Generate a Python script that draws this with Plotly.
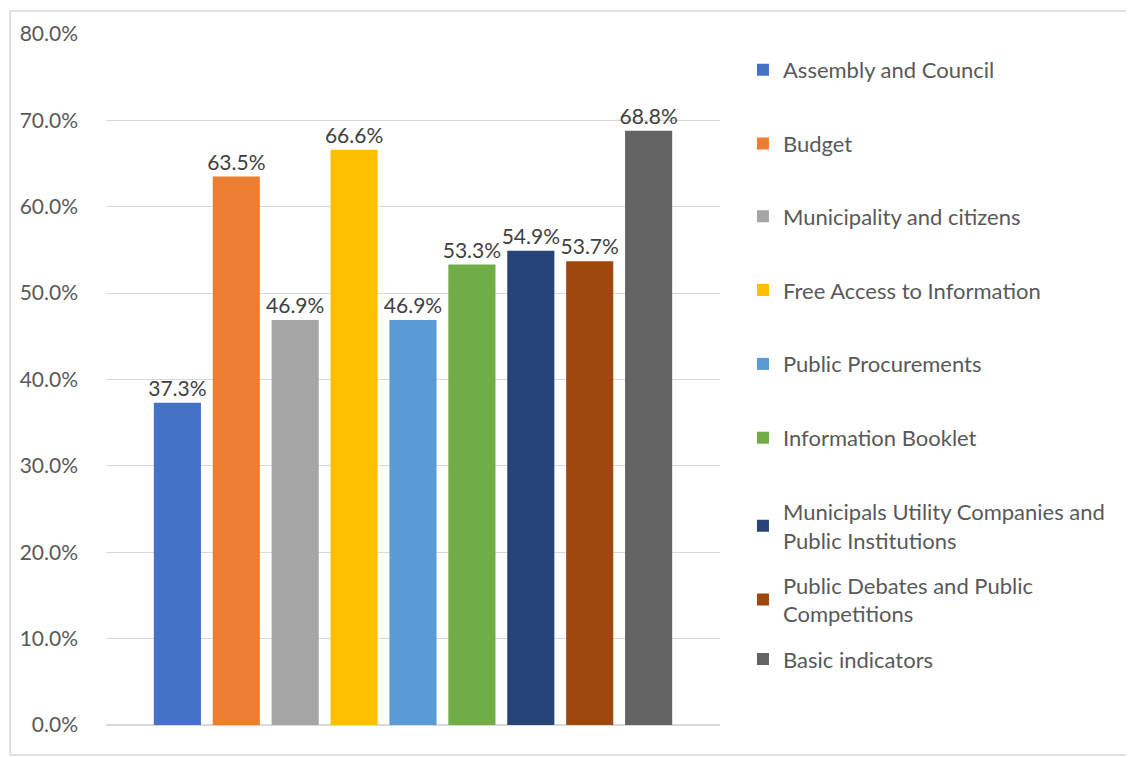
import plotly.graph_objects as go

categories = ["Assembly and Council", "Budget", "Municipality and citizens",
              "Free Access to Information", "Public Procurements", "Information Booklet",
              "Municipals Utility Companies and<br>Public Institutions",
              "Public Debates and Public<br>Competitions", "Basic indicators"]
values = [0.373, 0.635, 0.469, 0.666, 0.469, 0.533, 0.549, 0.537, 0.688]
colors = ["#4472C4", "#ED7D31", "#A5A5A5", "#FFC000", "#5B9BD5", "#70AD47",
          "#264478", "#9E480E", "#636363"]
tick_vals = [0, 0.1, 0.2, 0.3, 0.4, 0.5, 0.6, 0.7, 0.8]

FONT = "Lato"
OFF = 8  # browser body margin
W, H = 1134 - OFF, 757 - OFF
L, R, T, B = 105 - OFF, 720 - OFF, 32 - OFF, 725 - OFF
PW, PH = R - L, B - T

legend_py = [70, 144, 217, 291, 365, 439, 513, 587, 661]

fig = go.Figure()
layout_legends = {}
for i, (name, v, c) in enumerate(zip(categories, values, colors)):
    lname = "legend" if i == 0 else f"legend{i+1}"
    fig.add_trace(go.Bar(
        x=[0], y=[v], name=name, marker_color=c, marker_line_width=0,
        text=[f"{v*100:.1f}%"], textposition="outside", cliponaxis=False,
        constraintext="none",
        textfont=dict(family=FONT, size=21, color="#404040"),
        legend=lname, showlegend=True,
    ))
    layout_legends[lname] = dict(
        x=(743 - OFF - L) / PW, y=(B - (legend_py[i] - OFF) + 23) / PH,
        xanchor="left", yanchor="top",
        font=dict(family=FONT, size=22, color="#595959"),
        bgcolor="rgba(0,0,0,0)", borderwidth=0, itemclick=False,
    )

fig.update_layout(
    width=W, height=H,
    margin=dict(l=L, r=W - R, t=T, b=H - B),
    paper_bgcolor="white", plot_bgcolor="white",
    barmode="group", bargap=1 - 531 / 615, bargroupgap=0.2,
    xaxis=dict(range=[-0.5, 0.5], showticklabels=False, showgrid=False,
               zeroline=False, showline=False, fixedrange=True),
    yaxis=dict(range=[0, 0.8], tickvals=tick_vals, tickformat=".1%",
               showgrid=True, gridcolor="#D9D9D9", gridwidth=1,
               zeroline=True, zerolinecolor="#D9D9D9", zerolinewidth=1.5,
               showline=False, ticklabelstandoff=27,
               tickfont=dict(family=FONT, size=21, color="#595959")),
    showlegend=True,
    shapes=[dict(type="rect", xref="paper", yref="paper",
                 x0=(1 - L) / PW, x1=(1132 - OFF - L) / PW,
                 y0=(B - (755 - OFF)) / PH, y1=(B - 1) / PH,
                 line=dict(color="#D9D9D9", width=1.5), fillcolor="rgba(0,0,0,0)",
                 layer="below")],
    **layout_legends,
)
fig.write_html("out.html")
